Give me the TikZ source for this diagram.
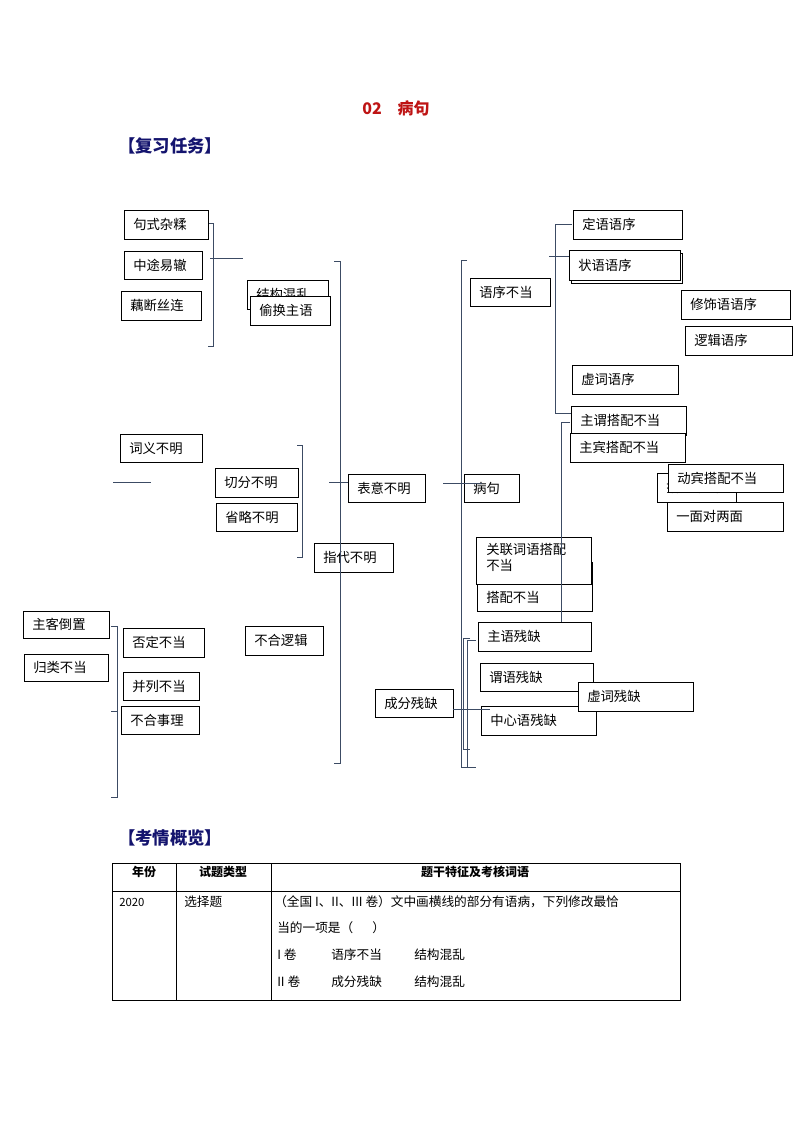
\documentclass[tikz,border=0pt]{standalone}
\usepackage{fontspec}
\setmainfont{Noto Sans CJK SC}
\newfontfamily\cjk{Noto Sans CJK SC}
\definecolor{navy}{RGB}{20,20,110}
\definecolor{lc}{RGB}{60,75,100}
\definecolor{tred}{RGB}{190,20,20}
\begin{document}
\begin{tikzpicture}[x=0.75pt,y=-0.75pt,
  ln/.style={draw=lc,line width=0.7pt}]
\useasboundingbox (0,0) rectangle (794,1123);
\newcommand{\B}[6]{\draw[black,line width=0.6pt,fill=white] (#2,#3) rectangle (#4,#5); \node[anchor=west,inner sep=0pt,font=\fontsize{10}{12}\selectfont] (#1) at (#2+9,{(#3+#5)/2}) {#6};}
\node[font=\bfseries\fontsize{12}{14}\selectfont,text=tred] (title) at (396,108) {02\hspace{1em}病句};
\node[anchor=west,font=\bfseries\fontsize{13}{15}\selectfont,text=navy,inner sep=0pt] (h1) at (118,146) {【复习任务】};
\node[anchor=west,font=\bfseries\fontsize{13}{15}\selectfont,text=navy,inner sep=0pt] (h2) at (118,838) {【考情概览】};
% connectors
\draw[ln] (208,223)--(213,223)--(213,346)--(208,346);
\draw[ln] (210,258)--(243,258);
\draw[ln] (113,482)--(151,482);
\draw[ln] (297,445)--(302,445)--(302,557)--(297,557);
\draw[ln] (334,261)--(340,261)--(340,763)--(334,763);
\draw[ln] (467,260)--(461,260)--(461,767)--(467,767);
\draw[ln] (443,483)--(482,483);
\draw[ln] (572,224)--(555,224)--(555,413)--(572,413);
\draw[ln] (549,256)--(572,256);
\draw[ln] (111,626)--(117,626)--(117,797)--(111,797);
\draw[ln] (111,711)--(117,711);
\draw[ln] (470,638)--(463,638)--(463,749)--(470,749);
\draw[ln] (476,640)--(467,640)--(467,767)--(476,767);
% boxes
\B{a1}{124}{210}{208}{239}{句式杂糅}
\B{a2}{124}{251}{202}{279}{中途易辙}
\B{a3}{121}{291}{201}{320}{藕断丝连}
\B{a4}{247}{280}{328}{309}{结构混乱}
\B{a5}{250}{296}{330}{325}{偷换主语}
\B{b1}{120}{434}{202}{462}{词义不明}
\B{b2}{215}{468}{298}{497}{切分不明}
\B{b3}{216}{503}{297}{531}{省略不明}
\B{b4}{348}{474}{425}{502}{表意不明}
\B{b5}{314}{543}{393}{572}{指代不明}
\draw[ln] (329,482)--(348,482);
\draw[ln] (340,543)--(340,575);
\B{r0}{464}{474}{519}{502}{病句}
\draw[ln] (461,483)--(482,483);
\B{r1}{470}{278}{550}{306}{语序不当}
\B{r2}{573}{210}{682}{239}{定语语序}
\draw[black,line width=0.6pt,fill=white] (571,253) rectangle (682,283);
\B{r3}{569}{250}{680}{280}{状语语序}
\B{r4}{681}{290}{790}{319}{修饰语语序}
\B{r5}{685}{326}{792}{355}{逻辑语序}
\B{r6}{572}{365}{678}{394}{虚词语序}
\B{r7}{571}{406}{686}{435}{主谓搭配不当}
\B{r8}{570}{433}{685}{462}{主宾搭配不当}
\B{r9}{657}{473}{736}{502}{搭配不当}
\B{r10}{668}{464}{783}{492}{动宾搭配不当}
\B{r11}{667}{502}{783}{531}{一面对两面}
\draw[black,line width=0.6pt,fill=white] (477,562) rectangle (592,611);
\node[anchor=west,inner sep=0pt,font=\fontsize{10}{12}\selectfont] (r12) at (486,597) {搭配不当};
\draw[black,line width=0.6pt,fill=white] (476,537) rectangle (591,584);
\node[anchor=north west,inner sep=0pt,align=left,font=\fontsize{10}{12}\selectfont] (r13) at (486,543) {关联词语搭配\\不当};
\draw[ln] (570,422)--(561,422)--(561,633)--(568,633);
\B{r14}{478}{622}{591}{651}{主语残缺}
\B{r15}{480}{663}{593}{691}{谓语残缺}
\B{r16}{481}{706}{596}{735}{中心语残缺}
\B{r17}{578}{682}{693}{711}{虚词残缺}
\B{r18}{375}{689}{453}{717}{成分残缺}
\draw[ln] (453,709)--(490,709);
\B{c1}{23}{611}{109}{638}{主客倒置}
\B{c2}{24}{654}{108}{681}{归类不当}
\B{c3}{123}{628}{204}{657}{否定不当}
\B{c4}{123}{672}{199}{700}{并列不当}
\B{c5}{121}{706}{199}{734}{不合事理}
\B{c6}{245}{626}{323}{655}{不合逻辑}
% table
\draw[black,line width=0.6pt] (112,863) rectangle (680,1000);
\draw[black,line width=0.6pt] (112,891)--(680,891) (176,863)--(176,1000) (271,863)--(271,1000);
\begin{scope}[font=\fontsize{8.5}{10}\selectfont]
\node[font=\bfseries\fontsize{9}{10}\selectfont] (t1) at (144,872) {年份};
\node[font=\bfseries\fontsize{9}{10}\selectfont] (t2) at (223,872) {试题类型};
\node[font=\bfseries\fontsize{9}{10}\selectfont] (t3) at (475,872) {题干特征及考核词语};
\node[anchor=west,inner sep=0pt] (t4) at (119,902) {2020};
\node[anchor=west,inner sep=0pt,font=\fontsize{9.5}{11}\selectfont] (t5) at (184,902) {选择题};
\node[anchor=west,inner sep=0pt,font=\fontsize{9.5}{11}\selectfont] (t6) at (274,902) {（全国 I、II、III 卷）文中画横线的部分有语病，下列修改最恰};
\node[anchor=west,inner sep=0pt,font=\fontsize{9.5}{11}\selectfont] (t7) at (277,928) {当的一项是（\hspace{1.5em}）};
\node[anchor=west,inner sep=0pt,font=\fontsize{9.5}{11}\selectfont] (t8) at (277,955) {I 卷};
\node[anchor=west,inner sep=0pt,font=\fontsize{9.5}{11}\selectfont] (t9) at (331,955) {语序不当};
\node[anchor=west,inner sep=0pt,font=\fontsize{9.5}{11}\selectfont] (t10) at (414,955) {结构混乱};
\node[anchor=west,inner sep=0pt,font=\fontsize{9.5}{11}\selectfont] (t11) at (277,982) {II 卷};
\node[anchor=west,inner sep=0pt,font=\fontsize{9.5}{11}\selectfont] (t12) at (331,982) {成分残缺};
\node[anchor=west,inner sep=0pt,font=\fontsize{9.5}{11}\selectfont] (t13) at (414,982) {结构混乱};
\end{scope}
\end{tikzpicture}
\end{document}
